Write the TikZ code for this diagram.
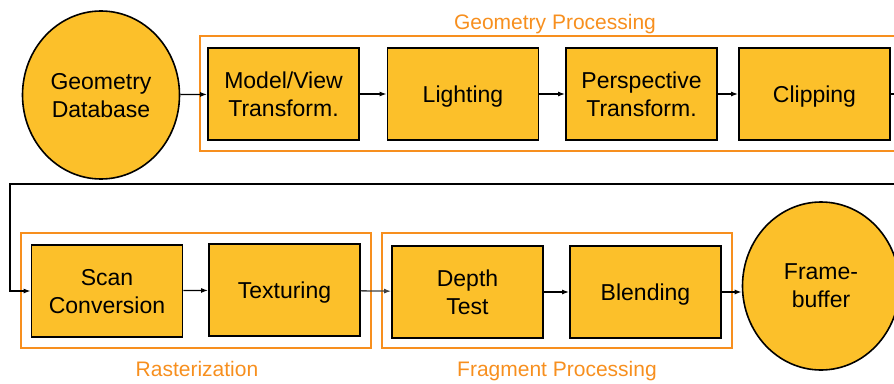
\documentclass[tikz,border=0pt]{standalone}
\usepackage{fontspec}
\setmainfont{Liberation Sans}
\usetikzlibrary{shapes.geometric,arrows.meta}
\definecolor{stagefill}{HTML}{FCC02A}
\definecolor{grouporange}{HTML}{F78F1E}

\begin{document}
\begin{tikzpicture}[x=1pt,y=-1pt,
    stagebox/.style={draw,line width=1.8pt,fill=stagefill,rectangle,
        minimum width=151pt,minimum height=92pt,align=center,text depth=0pt,
        font=\fontsize{23}{28}\selectfont},
    store/.style={draw,line width=1.6pt,fill=stagefill,ellipse,
        minimum width=157pt,minimum height=168pt,align=center,text depth=0pt,
        font=\fontsize{23}{28}\selectfont},
    group/.style={draw=grouporange,line width=2.6pt},
    grouplabel/.style={text=grouporange,font=\fontsize{21}{25}\selectfont},
    conn/.style={-{Latex[length=7pt,width=5pt]},line width=1.3pt}]
    % Fix the page to the size of the picture
    \useasboundingbox (0,0) rectangle (894,383);
    \clip (0,0) rectangle (894,383);
    % Draw the three stage groups
    \draw[group] (200,36) rectangle (910,151);
    \draw[group] (21,233) rectangle (371,348);
    \draw[group] (382,233) rectangle (732,348);
    \node[grouplabel] (geolabel) at (555,24) {Geometry Processing};
    \node[grouplabel] (raslabel) at (197,369) {Rasterization};
    \node[grouplabel] (fraglabel) at (557,371) {Fragment Processing};
    % Draw the source and the target
    \node[store] (gdb) at (101,95) {Geometry\\Database};
    \node[store] (fb) at (821,286) {Frame-\\buffer};
    % Draw the pipeline stages
    \node[stagebox] (model) at (283.5,94) {Model/View\\Transform.};
    \node[stagebox] (lighting) at (463,94) {Lighting};
    \node[stagebox] (persp) at (641.5,94) {Perspective\\Transform.};
    \node[stagebox] (clip) at (814.5,94) {Clipping};
    \node[stagebox] (scan) at (107,291) {Scan\\Conversion};
    \node[stagebox] (tex) at (284.5,290) {Texturing};
    \node[stagebox] (depth) at (467.5,292) {Depth\\Test};
    \node[stagebox] (blend) at (645.5,292) {Blending};
    % Connect the stages, wrapping from the first row to the second
    \coordinate (wrapR) at (920,184);
    \coordinate (wrapL) at (10,184);
    \draw[conn] (gdb) -- (model);
    \draw[conn] (model) -- (lighting);
    \draw[conn] (lighting) -- (persp);
    \draw[conn] (persp) -- (clip);
    \draw[conn] (clip.east) -| (wrapR) -- (wrapL) |- (scan.west);
    \draw[conn] (scan) -- (tex);
    \draw[conn,black!75] (tex) -- (depth);
    \draw[conn] (depth) -- (blend);
    \draw[conn] (blend.east) -- (blend.east -| fb.west);
\end{tikzpicture}
\end{document}
